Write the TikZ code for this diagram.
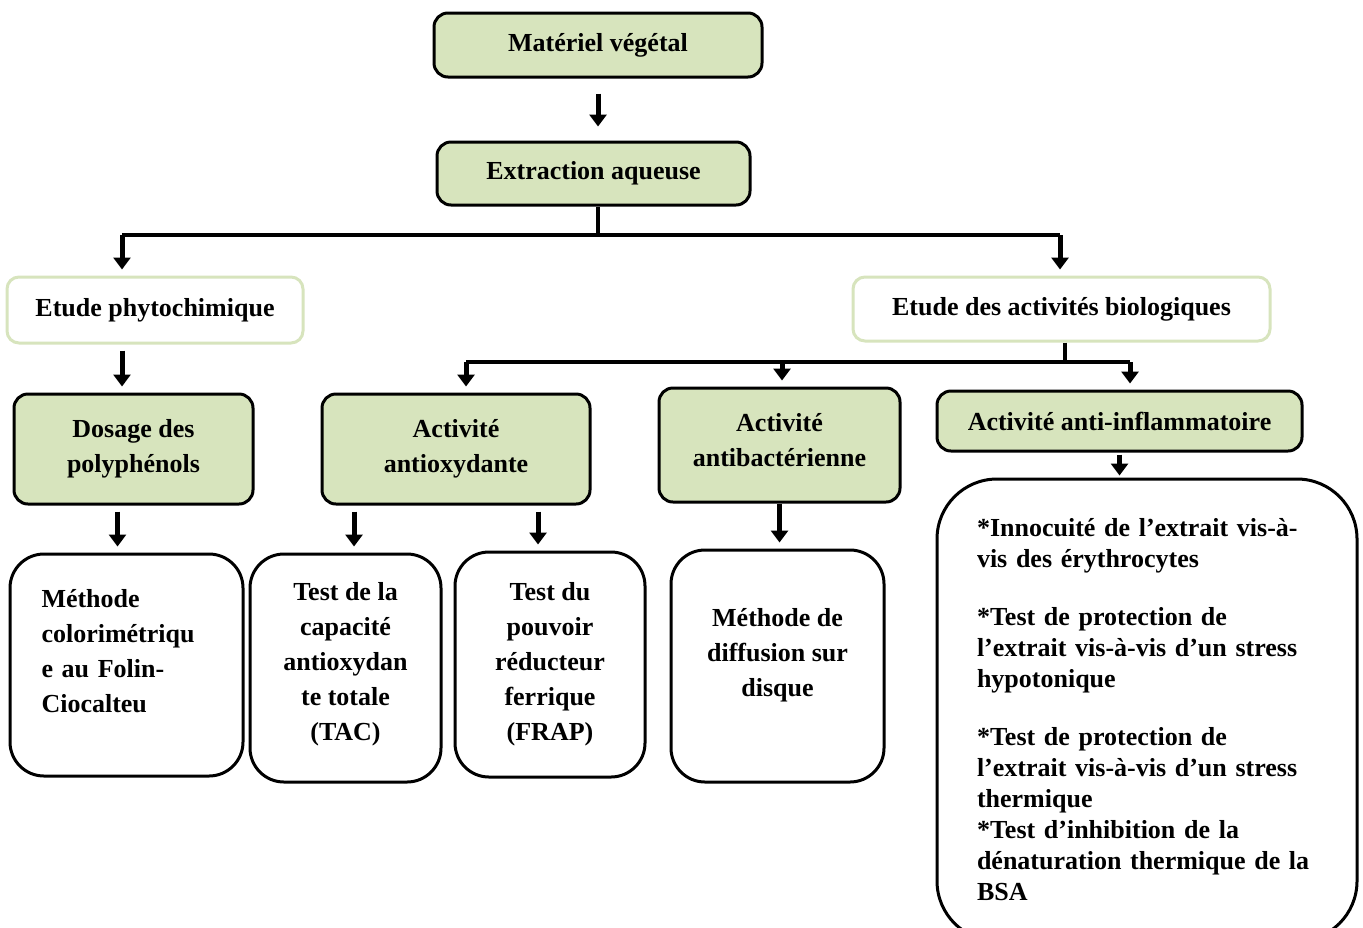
\documentclass[tikz,border=0pt]{standalone}
\usepackage{fontspec}
\setmainfont{Liberation Serif}
\usepackage[svgnames]{xcolor}
\usetikzlibrary{positioning, arrows.meta, calc}
\definecolor{leaf}{HTML}{D7E4BD}
\def\px{0.5pt}
\tikzset{
    greenbox/.style={draw=black, fill=leaf, line width=1.5pt, rounded corners=7pt,
        align=center, inner sep=0pt, font=\fontsize{13}{17.5}\selectfont\bfseries},
    palebox/.style={draw=leaf, fill=white, line width=1.5pt, rounded corners=6pt,
        align=center, inner sep=0pt, font=\fontsize{13}{17.5}\selectfont\bfseries},
    whitebox/.style={draw=black, fill=white, line width=1.5pt, rounded corners=17pt,
        align=center, inner sep=0pt, font=\fontsize{13}{17.5}\selectfont\bfseries},
    bar/.style={line width=2pt},
    down/.style={line width=2.5pt, -{Triangle[width=8.5pt,length=6pt]},
        shorten <=3pt, shorten >=3pt},
}

\begin{document}
\begin{tikzpicture}[x=\px, y=-\px]
    \useasboundingbox (0,0) rectangle (1363,927);

    % top of the chart
    \node[greenbox, minimum width=328*\px, minimum height=64*\px] (mat) at (598,45) {Matériel végétal};
    \node[greenbox, minimum width=313*\px, minimum height=63*\px] (ext) at (593.5,173.5) {Extraction aqueuse};

    % two branches
    \node[palebox, minimum width=296*\px, minimum height=66*\px] (phy) at (155,310) {Etude phytochimique};
    \node[palebox, minimum width=417*\px, minimum height=64*\px] (bio) at (1061.5,309) {Etude des activités biologiques};

    % activities
    \node[greenbox, minimum width=239*\px, minimum height=110*\px] (dos) at (133.5,449) {Dosage des\\polyphénols};
    \node[greenbox, minimum width=268*\px, minimum height=110*\px] (aox) at (456,449) {Activité\\antioxydante};
    \node[greenbox, text depth=5pt, minimum width=241*\px, minimum height=114*\px] (abac) at (779.5,445) {Activité\\antibactérienne};
    \node[greenbox, minimum width=365*\px, minimum height=60*\px] (ainf) at (1119.5,421) {Activité anti-inflammatoire};

    % methods
    \node[whitebox, align=left, text width=170*\px, text depth=66.5pt, minimum width=233*\px, minimum height=222*\px] (colo) at (126.5,665)
        {Méthode\\colorimétriqu\\e au Folin-\\Ciocalteu};
    \node[whitebox, text depth=6.8pt, minimum width=191*\px, minimum height=228*\px] (tac) at (345.5,668)
        {Test de la\\capacité\\antioxydan\\te totale\\(TAC)};
    \node[whitebox, minimum width=190*\px, minimum height=225*\px] (frap) at (550,664.5)
        {Test du\\pouvoir\\réducteur\\ferrique\\(FRAP)};
    \node[whitebox, text depth=13.8pt, minimum width=213*\px, minimum height=232*\px] (disk) at (777.5,666)
        {Méthode de\\diffusion sur\\disque};
    \node[whitebox, rounded corners=30pt, align=left, text width=340*\px, minimum width=420*\px, minimum height=462*\px,
        font=\fontsize{13}{15.5}\selectfont\bfseries] (tox) at (1147,710)
        {*Innocuité de l’extrait vis-à-\\vis des érythrocytes\\[13.5pt]
         *Test de protection de\\l’extrait vis-à-vis d’un stress\\hypotonique\\[13.5pt]
         *Test de protection de\\l’extrait vis-à-vis d’un stress\\thermique\\{}*Test d’inhibition de la\\dénaturation thermique de la\\BSA};

    % junctions
    \coordinate (j1) at (598,235);
    \coordinate (l1) at (122,235);
    \coordinate (r1) at (1060,235);
    \coordinate (j2) at (1065,362);
    \coordinate (l2) at (466,362);
    \coordinate (m2) at (782,362);
    \coordinate (r2) at (1130,362);
    \coordinate (t1) at (354,0);
    \coordinate (t2) at (538,0);

    \draw[down, shorten <=7.5pt, shorten >=7pt] (mat.south) -- (mat.south |- ext.north);
    \draw[bar] (j1 |- ext.south) -- (j1);
    \draw[bar] (l1) -- (r1);
    \draw[down, shorten <=0pt] (l1) -- (l1 |- phy.north);
    \draw[down, shorten <=0pt] (r1) -- (r1 |- bio.north);

    \draw[down] (l1 |- phy.south) -- (l1 |- dos.north);
    \draw[bar] (j2 |- bio.south) -- (j2);
    \draw[bar] (l2) -- (r2);
    \draw[down, shorten <=0pt] (l2) -- (l2 |- aox.north);
    \draw[down, shorten <=0pt] (m2) -- (m2 |- abac.north);
    \draw[down, shorten <=0pt] (r2) -- (r2 |- ainf.north);

    \draw[down] ([xshift=-8pt]dos.south) -- ([xshift=-8pt]dos.south |- colo.north);
    \draw[down] (aox.south -| t1) -- (tac.north -| t1);
    \draw[down] (aox.south -| t2) -- (frap.north -| t2);
    \draw[down, shorten <=0pt] (abac.south) -- (abac.south |- disk.north);
    \draw[down, shorten <=1pt, shorten >=1pt] (ainf.south) -- (ainf.south |- tox.north);
\end{tikzpicture}
\end{document}
